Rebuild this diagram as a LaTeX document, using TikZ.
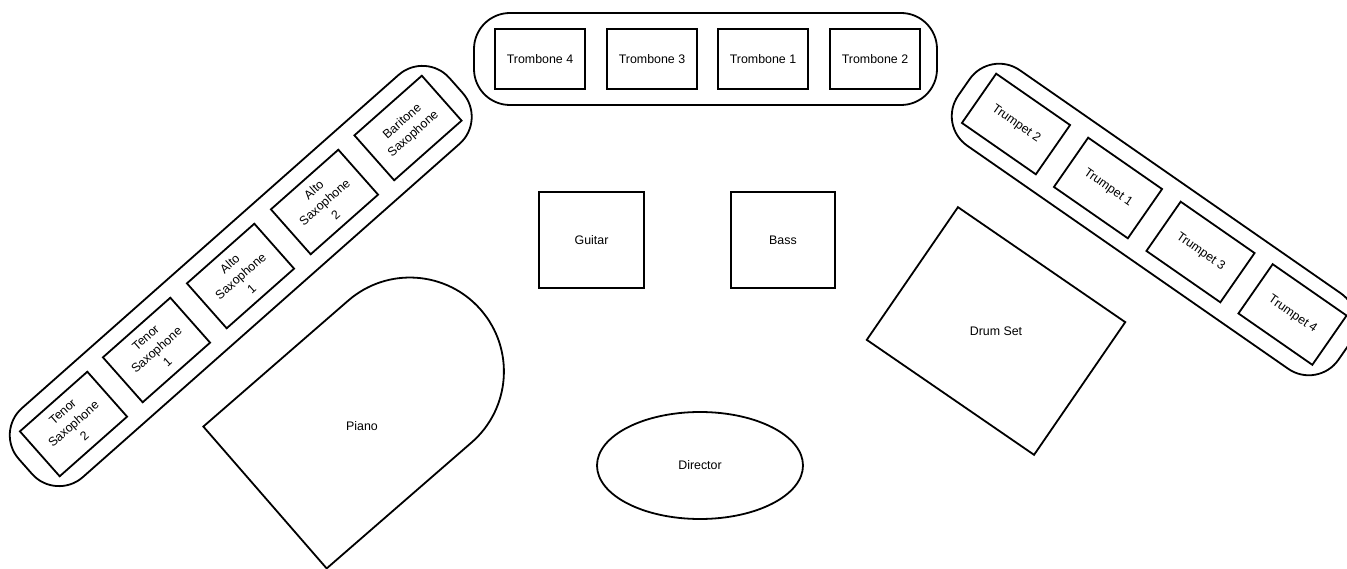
\documentclass[tikz,border=0pt]{standalone}
\usepackage{fontspec}
\setmainfont{Liberation Sans}
\usetikzlibrary{positioning,shapes.geometric}
\tikzset{
  seat/.style={draw,line width=1.8pt,minimum width=90pt,minimum height=60pt,align=center,inner sep=1pt,font=\fontsize{12.4}{16.5}\selectfont},
  section/.style={draw,line width=1.8pt,rounded corners=36pt,minimum height=92pt},
}

\begin{document}
\begin{tikzpicture}[x=1pt,y=-1pt,every node/.style={font=\fontsize{12.4}{14}\selectfont},line join=miter]
  \useasboundingbox (0,0) rectangle (1347,569);

  % trombones
  \node[section,minimum width=463pt] (tbnrow) at (705.5,59) {};
  \node[seat] (tbn4) at (540,59) {Trombone 4};
  \node[seat] (tbn3) at (652,59) {Trombone 3};
  \node[seat] (tbn1) at (763,59) {Trombone 1};
  \node[seat] (tbn2) at (875,59) {Trombone 2};

  % saxophones
  \node[section,minimum width=575pt,rotate=41.5] (saxrow) at (240.75,276) {};
  \node[seat,rotate=41.5] (bari) at (408,128) {Baritone\\Saxophone};
  \node[seat,rotate=41.5] (alto2) at (324.5,202) {Alto\\Saxophone\\2};
  \node[seat,rotate=41.5] (alto1) at (240.5,276) {Alto\\Saxophone\\1};
  \node[seat,rotate=41.5] (tenor1) at (156.5,350) {Tenor\\Saxophone\\1};
  \node[seat,rotate=41.5] (tenor2) at (73.5,424) {Tenor\\Saxophone\\2};

  % trumpets
  \node[section,minimum width=463pt,rotate=-34.8] (tptrow) at (1154,219.5) {};
  \node[seat,rotate=-34.8] (tpt2) at (1016,124) {Trumpet 2};
  \node[seat,rotate=-34.8] (tpt1) at (1108,188) {Trumpet 1};
  \node[seat,rotate=-34.8] (tpt3) at (1200.5,252) {Trumpet 3};
  \node[seat,rotate=-34.8] (tpt4) at (1292.5,314.5) {Trumpet 4};

  % rhythm section
  \node[draw,line width=1.8pt,minimum width=105pt,minimum height=96pt] (guitar) at (591.5,240) {Guitar};
  \node[draw,line width=1.8pt,minimum width=104pt,minimum height=96pt] (bass) at (783,240) {Bass};
  \node[draw,line width=1.8pt,rotate=-34.5,minimum width=203pt,minimum height=161pt] (drums) at (996,331) {};
  \node (drumlabel) at (drums.center) {Drum Set};

  % piano
  \begin{scope}[shift={(265,497.5)},rotate=41,y=1pt]
    \draw[line width=1.8pt] (0,-94) -- (192,-94) arc (-90:90:94) -- (0,94) -- cycle;
  \end{scope}
  \node (piano) at (362,426) {Piano};

  \node[draw,ellipse,line width=1.8pt,minimum width=206pt,minimum height=107pt] (director) at (700,465.5) {Director};
\end{tikzpicture}
\end{document}
